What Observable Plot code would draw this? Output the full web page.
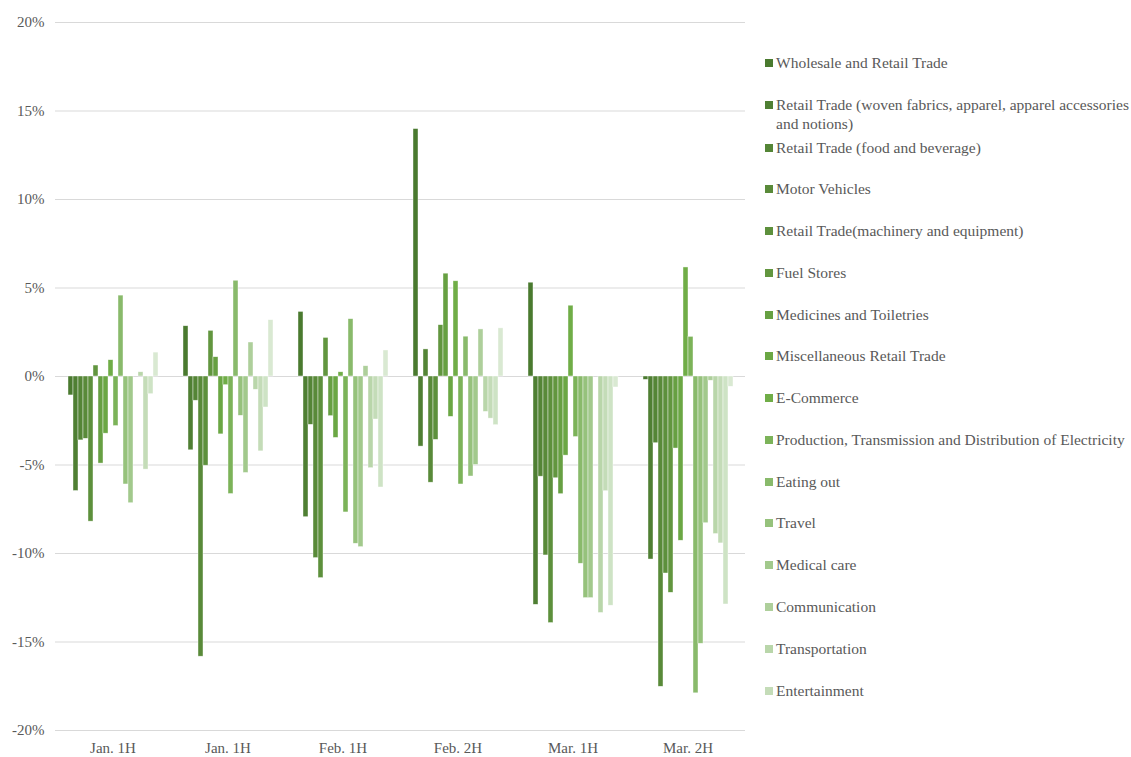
<!DOCTYPE html>
<html>
<head>
<meta charset="utf-8">
<script src="https://cdn.jsdelivr.net/npm/d3@7"></script>
<script src="https://cdn.jsdelivr.net/npm/@observablehq/plot@0.6"></script>
<style>
  html, body { margin: 0; padding: 0; background: #fff; }
  #wrap { position: relative; width: 1131px; height: 757px; font-family: "Liberation Serif", "Times New Roman", serif; color: #595959; }
  .lg { position: absolute; left: 765px; display: flex; align-items: flex-start; font-size: 15.5px; line-height: 19px; white-space: nowrap; }
  .sw { width: 8px; height: 8px; margin-top: 6px; margin-right: 3px; flex: none; }
</style>
</head>
<body>
<div id="wrap"></div>
<script>
// Period labels (the second label is duplicated in the source chart)
const groups = ["Jan. 1H", "Jan. 1H", "Feb. 1H", "Feb. 2H", "Mar. 1H", "Mar. 2H"];

// Legend names (the legend of the source shows 16 entries; 18 bars per period)
const seriesNames = [
  "Wholesale and Retail Trade",
  "Retail Trade (woven fabrics, apparel, apparel accessories\nand notions)",
  "Retail Trade (food and beverage)",
  "Motor Vehicles",
  "Retail Trade(machinery and equipment)",
  "Fuel Stores",
  "Medicines and Toiletries",
  "Miscellaneous Retail Trade",
  "E-Commerce",
  "Production, Transmission and Distribution of Electricity",
  "Eating out",
  "Travel",
  "Medical care",
  "Communication",
  "Transportation",
  "Entertainment"
];

// Values (%) per period, one value per series, in bar order
const jan1H_a = [-1.07, -6.47, -3.61, -3.52, -8.2, 0.62, -4.92, -3.23, 0.92, -2.8, 4.57, -6.1, -7.16, 0, 0.24, -5.26, -1.0, 1.35];
const jan1H_b = [2.84, -4.17, -1.37, -15.83, -5.04, 2.58, 1.09, -3.27, -0.49, -6.64, 5.41, -2.22, -5.45, 1.92, -0.75, -4.23, -1.75, 3.18];
const feb1H   = [3.65, -7.95, -2.73, -10.26, -11.39, 2.18, -2.24, -3.47, 0.24, -7.68, 3.24, -9.45, -9.64, 0.58, -5.18, -2.43, -6.27, 1.47];
const feb2H   = [13.98, -3.96, 1.53, -6.0, -3.58, 2.9, 5.81, -2.28, 5.38, -6.1, 2.25, -5.65, -5.0, 2.66, -2.0, -2.38, -2.75, 2.72];
const mar1H   = [5.3, -12.9, -5.66, -10.11, -13.93, -5.75, -6.65, -4.47, 4.0, -3.42, -10.58, -12.52, -12.52, 0, -13.36, -6.48, -12.95, -0.62];
const mar2H   = [-0.19, -10.34, -3.77, -17.53, -11.13, -12.22, -4.07, -9.28, 6.16, 2.24, -17.9, -15.1, -8.29, -0.24, -8.9, -9.43, -12.88, -0.58];

const yTicks = [-20, -15, -10, -5, 0, 5, 10, 15, 20];

// Monochromatic green palette (dark to light)
const colors = ["#4a7a2f", "#4f7f33", "#548536", "#598a39", "#5d903c", "#62963f", "#67a042", "#6ba744",
                "#70ad47", "#7cb359", "#89ba6b", "#96c27c", "#a2c98c", "#aecf9b", "#b9d6aa", "#c4dcb8", "#cee3c5", "#d9e9d2"];

const periods = [jan1H_a, jan1H_b, feb1H, feb2H, mar1H, mar2H];
const data = periods.flatMap((arr, g) => arr.map((v, s) => ({g, s, v})));
const seriesIdx = d3.range(18);

const chart = Plot.plot({
  width: 1131,
  height: 757,
  marginLeft: 55,
  marginRight: 386,
  marginTop: 22,
  marginBottom: 27,
  style: {fontFamily: "'Liberation Serif', 'Times New Roman', serif", fontSize: "15px", color: "#595959", background: "#fff"},
  fx: {domain: d3.range(groups.length), padding: 0, axis: "bottom", tickSize: 0, tickPadding: 12, label: null, tickFormat: i => groups[i]},
  x: {domain: seriesIdx, paddingInner: 0, paddingOuter: 2.12, axis: null},
  y: {domain: [-20, 20], ticks: yTicks, tickFormat: d => d + "%", tickSize: 0, tickPadding: 11, label: null},
  color: {type: "ordinal", domain: seriesIdx, range: colors},
  marks: [
    Plot.ruleY(yTicks, {stroke: "#d9d9d9", strokeWidth: 1}),
    Plot.barY(data, {fx: "g", x: "s", y: "v", fill: "s", inset: 0, stroke: "#ffffff", strokeWidth: 0.6, strokeOpacity: 0.7})
  ]
});

const wrap = document.getElementById("wrap");
wrap.appendChild(chart);

// Legend overlay (HTML) in the right margin
seriesNames.forEach((name, i) => {
  const cy = i === 0 ? 63 : i === 1 ? 105 : 148 + (i - 2) * 41.77;
  const el = document.createElement("div");
  el.className = "lg";
  el.style.top = (cy - 10.5) + "px";
  const sw = document.createElement("span");
  sw.className = "sw";
  sw.style.background = colors[i];
  const tx = document.createElement("span");
  tx.style.whiteSpace = "pre";
  tx.textContent = name;
  el.appendChild(sw);
  el.appendChild(tx);
  wrap.appendChild(el);
});
</script>
</body>
</html>
